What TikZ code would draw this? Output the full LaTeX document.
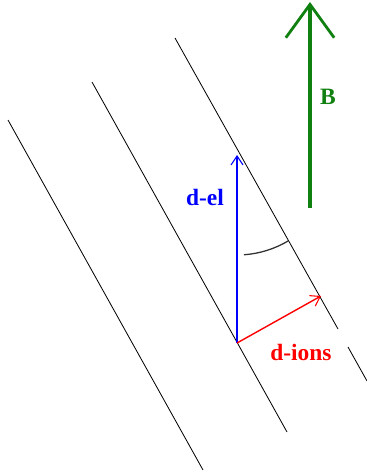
\documentclass[tikz,border=0pt]{standalone}
\usepackage{fontspec}
\setmainfont{Liberation Serif}
\usepackage{xcolor}
\usetikzlibrary{arrows.meta}
\definecolor{FieldGreen}{RGB}{16,128,16}

\begin{document}
\begin{tikzpicture}[x=0.03cm, y=-0.03cm,
    fieldline/.style={draw=black, line width=0.7pt},
    vec/.style={line width=1.2pt, -{Straight Barb[length=0.27cm, width=0.36cm, line width=0.9pt]}},
    lbl/.style={font=\fontsize{20}{24}\selectfont\bfseries, inner sep=0pt}]

    \useasboundingbox (0,0) rectangle (367,476);

    % Field lines
    \draw[fieldline] (8,120) -- (203,470);
    \draw[fieldline] (92,82) -- (287,432);
    \draw[fieldline] (175,38) -- (338,329);
    \draw[fieldline] (348,347) -- (367,381);

    % Points
    \coordinate (base) at (237,343);
    \coordinate (eltip) at (237,155);
    \coordinate (iontip) at (321,296);
    \coordinate (Bfoot) at (310,208);
    \coordinate (Btip) at (310,2);

    % Arrows
    \draw[vec, blue] (base) -- (eltip);
    \draw[vec, red] (base) -- (iontip);
    \draw[FieldGreen, line width=2.8pt, -{Straight Barb[length=1.0cm, width=1.45cm, line width=2.4pt]}] (Bfoot) -- (Btip);

    % Angle
    \draw[black!80, line width=1.1pt] (eltip) ++(-86:3cm) arc[start angle=-86, end angle=-59, radius=3cm];

    % Labels
    \node[lbl, blue] (del) at (205,197) {d-el};
    \node[lbl, red] (dions) at (301,352) {d-ions};
    \node[lbl, FieldGreen] (B) at (328,97) {B};
\end{tikzpicture}
\end{document}
